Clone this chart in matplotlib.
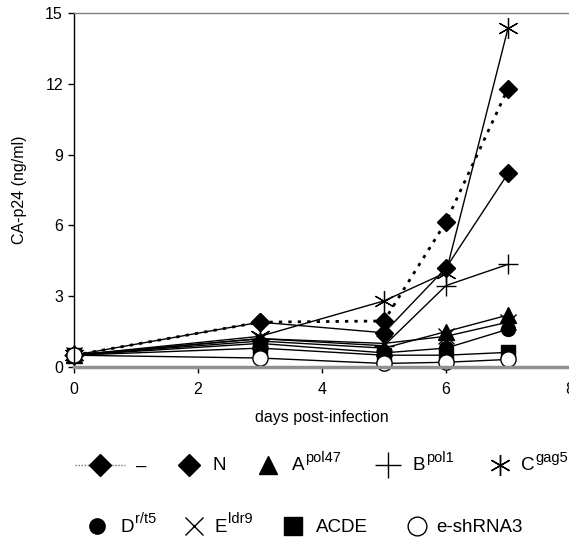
import matplotlib
matplotlib.use("Agg")
import matplotlib.pyplot as plt

plt.rcParams['font.family'] = ['Liberation Sans', 'DejaVu Sans']

days = [0, 3, 5, 6, 7]
base_labels = ['–', 'N', 'A', 'B', 'C', 'D', 'E', 'ACDE', 'e-shRNA3']
sup_labels = ['', '', 'pol47', 'pol1', 'gag5', 'r/t5', 'ldr9', '', '']
v_dash = [0.5, 1.9, 1.95, 6.15, 11.8]
v_N = [0.5, 1.9, 1.45, 4.2, 8.2]
v_A = [0.5, 1.1, 0.8, 1.5, 2.2]
v_B = [0.5, 1.2, 0.9, 3.45, 4.35]
v_C = [0.5, 1.3, 2.8, 4.0, 14.35]
v_D = [0.5, 1.0, 0.6, 0.8, 1.6]
v_E = [0.5, 1.2, 1.0, 1.3, 1.9]
v_ACDE = [0.5, 0.8, 0.5, 0.5, 0.62]
v_sh = [0.5, 0.38, 0.15, 0.2, 0.32]
series = [v_dash, v_N, v_A, v_B, v_C, v_D, v_E, v_ACDE, v_sh]

styles = [
    dict(marker='D', ms=9.5, mfc='black', mec='black', ls=(0, (1.2, 2.2)), lw=2.0),
    dict(marker='D', ms=9.5, mfc='black', mec='black', ls='-', lw=1),
    dict(marker='^', ms=11, mfc='black', mec='black', ls='-', lw=1),
    dict(marker='+', ms=14, mfc='black', mec='black', mew=1, ls='-', lw=1),
    dict(marker=(6, 2, 0), ms=15, mfc='black', mec='black', mew=0.9, ls='-', lw=1),
    dict(marker='o', ms=10, mfc='black', mec='black', ls='-', lw=1),
    dict(marker='x', ms=11, mfc='black', mec='black', mew=1, ls='-', lw=1),
    dict(marker='s', ms=10, mfc='black', mec='black', ls='-', lw=1),
    dict(marker='o', ms=11, mfc='white', mec='black', mew=1, ls='-', lw=1),
]

fig = plt.figure(figsize=(5.69, 5.41), dpi=100)
ax = fig.add_axes([74/569, 1-367/541, (570-74)/569, (367-13)/541])

for vals, st in zip(series, styles):
    ax.plot(days, vals, color='black', clip_on=False, **st)

ax.set_xlim(0, 8)
ax.set_ylim(0, 15)
ax.set_xticks([0, 2, 4, 6, 8])
ax.set_yticks([0, 3, 6, 9, 12, 15])
ax.tick_params(direction='out', length=4, width=1, labelsize=11.5, color='black')
ax.tick_params(axis='x', pad=7)
ax.tick_params(axis='y', pad=4)
ax.spines['top'].set_color('#808080')
ax.spines['top'].set_linewidth(1)
ax.spines['right'].set_visible(False)
ax.spines['bottom'].set_color('#909090')
ax.spines['bottom'].set_linewidth(2.5)
ax.spines['left'].set_color('black')
ax.spines['left'].set_linewidth(1)
ax.set_xlabel('days post-infection', fontsize=11.5, labelpad=9)
ax.set_ylabel('CA-p24 (ng/ml)', fontsize=11.5, labelpad=13)

# Legend drawn on an overlay axes in pixel coordinates
lg = fig.add_axes([0, 0, 1, 1])
lg.set_xlim(0, 569)
lg.set_ylim(541, 0)
lg.axis('off')
lg.patch.set_alpha(0)

row_y = [465, 526]
leg_items = [
    (0, 100, 136, dict(marker='D', ms=11.5)),
    (0, 189, 213, dict(marker='D', ms=11.5)),
    (0, 268, 292, dict(marker='^', ms=12.5)),
    (0, 388, 413, dict(marker='+', ms=19, mew=1)),
    (0, 500, 521, dict(marker=(6, 2, 0), ms=15, mew=1)),
    (1, 97, 121, dict(marker='o', ms=11)),
    (1, 194, 215, dict(marker='x', ms=13, mew=1)),
    (1, 293, 316, dict(marker='s', ms=13)),
    (1, 417, 436, dict(marker='o', ms=13.5, mfc='white', mew=1)),
]
renderer = fig.canvas.get_renderer()
lg.plot([75, 125], [row_y[0], row_y[0]], color='#707070', lw=1, ls=(0, (1, 1.2)))
for (row, mx, tx, mst), lab, sup in zip(leg_items, base_labels, sup_labels):
    st = dict(mfc='black', mec='black')
    st.update(mst)
    lg.plot([mx], [row_y[row]], color='black', ls='none', **st)
    t = lg.text(tx, row_y[row] + 1, lab, fontsize=13.5, va='center', ha='left')
    if sup:
        w = t.get_window_extent(renderer).width * 569 / fig.bbox.width
        lg.text(tx + w + 0.5, row_y[row] - 7, sup, fontsize=10.5, va='center', ha='left')

fig.savefig('out.png', dpi=100)
